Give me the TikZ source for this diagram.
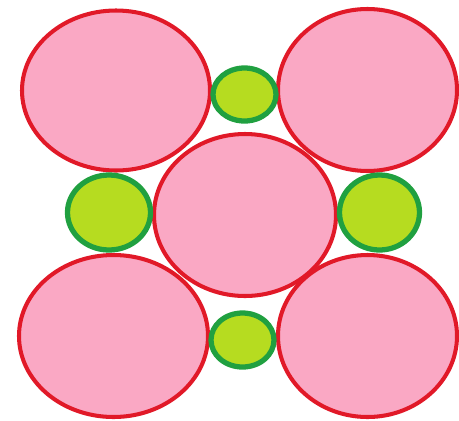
\documentclass[tikz,border=0pt]{standalone}
\definecolor{petal}{RGB}{250,168,196}
\definecolor{petalline}{RGB}{225,25,40}
\definecolor{lime}{RGB}{182,220,32}
\definecolor{limeline}{RGB}{32,160,64}
\tikzset{
  pinkblob/.style={fill=petal,draw=petalline,line width=2.3pt},
  greenblob/.style={fill=lime,draw=limeline,line width=3pt}
}
\begin{document}
\begin{tikzpicture}[x=0.02cm,y=-0.02cm]
\useasboundingbox (0,0) rectangle (459,420);
% pink ellipses
\draw[pinkblob] (116,90.5) ellipse [x radius=94,y radius=80];
\draw[pinkblob] (367.5,90) ellipse [x radius=89.5,y radius=81];
\draw[pinkblob] (245,215) ellipse [x radius=91,y radius=81];
\draw[pinkblob] (113.5,336) ellipse [x radius=94.5,y radius=81];
\draw[pinkblob] (367.5,336) ellipse [x radius=89.5,y radius=81];
% green ellipses
\draw[greenblob] (244.5,94.5) ellipse [x radius=31.5,y radius=26.5];
\draw[greenblob] (109,212.5) ellipse [x radius=41.5,y radius=37.5];
\draw[greenblob] (379.5,212.5) ellipse [x radius=40,y radius=37.5];
\draw[greenblob] (242.5,340) ellipse [x radius=31.5,y radius=27];
\end{tikzpicture}
\end{document}
